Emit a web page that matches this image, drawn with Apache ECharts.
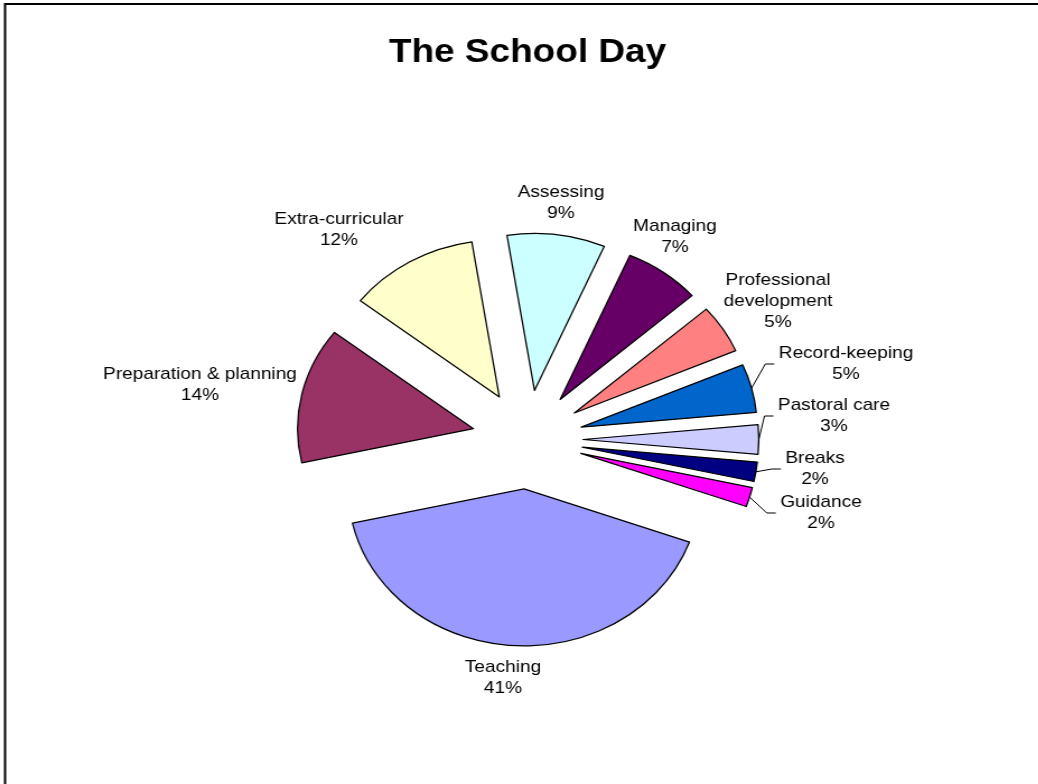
<!DOCTYPE html>
<html><head><meta charset="utf-8">
<script src="https://cdn.jsdelivr.net/npm/echarts@6/dist/echarts.min.js"></script>
<style>
html,body{margin:0;padding:0;background:#fff;overflow:hidden;}
#wrap{position:absolute;left:0;top:0;width:1038px;height:784px;overflow:hidden;background:#fff;}
#chart{position:absolute;left:0;top:0;width:927px;height:784px;transform:scaleX(1.12);transform-origin:0 0;}
</style></head><body>
<div id="wrap"><div id="chart"></div></div>
<script>
const chartTitle = 'The School Day';
const categories = ['Assessing','Managing','Professional development','Record-keeping','Pastoral care','Breaks','Guidance','Teaching','Preparation & planning','Extra-curricular'];
const values = [9, 7, 5, 5, 3, 2, 2, 41, 14, 12];
const colors = ['#CCFFFF','#660066','#FF8080','#0066CC','#CCCCFF','#000080','#FF00FF','#9999FF','#993366','#FFFFCC'];
const leaderLines = [false, false, false, true, true, true, true, false, false, false];
const wrappedNames = {'Professional development': 'Professional\ndevelopment'};
// label centres, in page pixels
const labelPos = [[561,203],[675,237],[778,301],[846,364],[834,416],[815,469],[821,513],[503,678],[200,385],[339,230]];

const SX = 1.12;               // horizontal stretch of the whole picture
const FONT = "'Liberation Sans', Arial, sans-serif";
const PIE_CENTER = [471, 439.5];
const PIE_RADIUS = 157;
const START_ANGLE = 99;        // degrees, ECharts convention
const EXPLODE = 49.5;          // distance each slice is pulled out

const total = values.reduce((a, b) => a + b, 0);
let cum = 0;
const series = categories.map((name, i) => {
  const start = START_ANGLE - cum / total * 360;
  const midRad = (START_ANGLE - (cum + values[i] / 2) / total * 360) * Math.PI / 180;
  cum += values[i];
  const center = [PIE_CENTER[0] + EXPLODE * Math.cos(midRad), PIE_CENTER[1] - EXPLODE * Math.sin(midRad)];
  return {
    type: 'pie',
    center: center,
    radius: PIE_RADIUS,
    startAngle: start,
    clockwise: true,
    avoidLabelOverlap: false,
    silent: true,
    emphasis: {disabled: true},
    label: {
      show: true, position: 'outside', color: '#000', fontFamily: FONT,
      fontSize: 17, lineHeight: 21,
      formatter: p => (wrappedNames[p.name] || p.name) + '\n' + p.value + '%'
    },
    labelLine: {show: true, length: 10, length2: 8, lineStyle: {color: '#000', width: 1}},
    labelLayout: function (p) {
      if (p.dataIndex !== 0) return {};
      const q = labelPos[i];
      const x = q[0] / SX, y = q[1];
      const res = {x: x, y: y, align: 'center', verticalAlign: 'middle'};
      if (leaderLines[i] && p.labelLinePoints) {
        const ax = x - p.labelRect.width / 2 - 4;
        res.labelLinePoints = [p.labelLinePoints[0], [ax - 8, y], [ax, y]];
      }
      return res;
    },
    data: [
      {name: name, value: values[i],
       itemStyle: {color: colors[i], borderColor: '#000', borderWidth: 1.25},
       labelLine: {show: leaderLines[i]}},
      {name: '', value: total - values[i],
       itemStyle: {color: 'rgba(0,0,0,0)', borderWidth: 0},
       label: {show: false}, labelLine: {show: false}}
    ]
  };
});

const chart = echarts.init(document.getElementById('chart'), null, {renderer: 'canvas'});
chart.setOption({
  animation: false,
  backgroundColor: '#fff',
  title: {
    text: chartTitle, left: 471, top: 36, textAlign: 'center', padding: 0,
    textStyle: {fontFamily: FONT, fontSize: 33, fontWeight: 'bold', color: '#000'}
  },
  graphic: [{
    type: 'rect', silent: true, z: -1,
    shape: {x: 4.5, y: 4, width: 1100, height: 900},
    style: {fill: null, stroke: '#000', lineWidth: 2}
  }],
  series: series
});
</script>
</body></html>
